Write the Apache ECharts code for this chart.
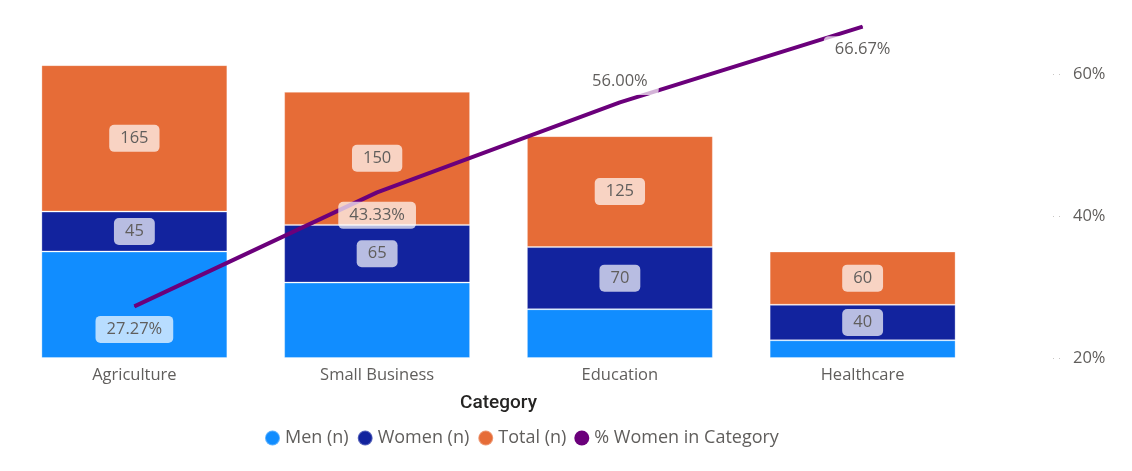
<!DOCTYPE html>
<html>
<head>
<meta charset="utf-8">
<script src="https://cdn.jsdelivr.net/npm/echarts@6/dist/echarts.min.js"></script>
<style>
html, body { margin: 0; padding: 0; background: #fff; }
#chart { width: 1132px; height: 471px; }
</style>
</head>
<body>
<div id="chart"></div>
<script>
// data
var categories = ['Agriculture', 'Small Business', 'Education', 'Healthcare'];
var menN = [120, 85, 55, 20];
var womenN = [45, 65, 70, 40];
var totalN = [165, 150, 125, 60];
var pctWomen = [0.2727, 0.4333, 0.56, 0.6667];
var pctTicks = [0.2, 0.4, 0.6];

var font = 'Open Sans';
var grey = '#605E5C';

var myChart = echarts.init(document.getElementById('chart'));

var pill = {
    show: true,
    position: 'inside',
    color: grey,
    fontFamily: font,
    fontSize: 16.5,
    backgroundColor: 'rgba(255,255,255,0.7)',
    padding: [5, 11],
    borderRadius: 5
};

// label of the line sits below the point, except Education
var pctPos = ['bottom', 'bottom', 'top', 'bottom'];
var pctData = pctWomen.map(function (v, i) {
    return { value: v, label: { position: pctPos[i], distance: pctPos[i] == 'top' ? 7 : 9 } };
});

var option = {
    animation: false,
    grid: { left: 13, right: 148, top: 3, bottom: 113 },
    legend: {
        left: 259,
        top: 424,
        icon: 'circle',
        itemWidth: 15,
        itemHeight: 15,
        itemGap: 8,
        textStyle: { color: grey, fontSize: 18, fontFamily: font },
        data: ['Men (n)', 'Women (n)', 'Total (n)', '% Women in Category']
    },
    xAxis: {
        type: 'category',
        data: categories,
        axisLine: { show: false },
        axisTick: { show: false },
        axisLabel: { color: grey, fontSize: 16.5, fontFamily: font, margin: 9 },
        name: 'Category',
        nameLocation: 'middle',
        nameGap: 36,
        nameTextStyle: { color: '#252423', fontSize: 19, fontWeight: 500, fontFamily: 'Roboto' }
    },
    yAxis: [
        { type: 'value', min: 0, max: 400, show: false },
        {
            type: 'value',
            position: 'right',
            min: 0.2,
            max: 0.7,
            interval: 0.2,
            offset: 69,
            splitLine: { show: false },
            axisLine: { show: false },
            axisTick: {
                show: true,
                length: 9,
                customValues: pctTicks,
                lineStyle: { color: '#C8C6C4', type: [1, 5], width: 1 }
            },
            axisLabel: {
                margin: 20,
                color: grey,
                fontSize: 16.5,
                fontFamily: font,
                customValues: pctTicks,
                formatter: function (v) { return Math.round(v * 100) + '%'; }
            }
        }
    ],
    series: [
        {
            name: 'Men (n)', type: 'bar', stack: 'n', data: menN,
            barCategoryGap: '23.4%',
            itemStyle: { color: '#118DFF', borderColor: 'rgba(255,255,255,0.3)', borderWidth: 1 }
        },
        {
            name: 'Women (n)', type: 'bar', stack: 'n', data: womenN,
            itemStyle: { color: '#12239E', borderColor: 'rgba(255,255,255,0.3)', borderWidth: 1 },
            label: pill
        },
        {
            name: 'Total (n)', type: 'bar', stack: 'n', data: totalN,
            itemStyle: { color: '#E66C37', borderColor: 'rgba(255,255,255,0.3)', borderWidth: 1 },
            label: pill
        },
        {
            name: '% Women in Category', type: 'line', yAxisIndex: 1, data: pctData,
            symbol: 'circle', symbolSize: 1,
            itemStyle: { color: '#6B007B' },
            lineStyle: { color: '#6B007B', width: 4 },
            z: 5,
            label: {
                show: true,
                color: grey,
                fontSize: 16.5,
                fontFamily: font,
                backgroundColor: 'rgba(255,255,255,0.7)',
                padding: [5, 11],
                borderRadius: 5,
                formatter: function (p) { return (p.value * 100).toFixed(2) + '%'; }
            }
        }
    ]
};

myChart.setOption(option);
</script>
</body>
</html>
